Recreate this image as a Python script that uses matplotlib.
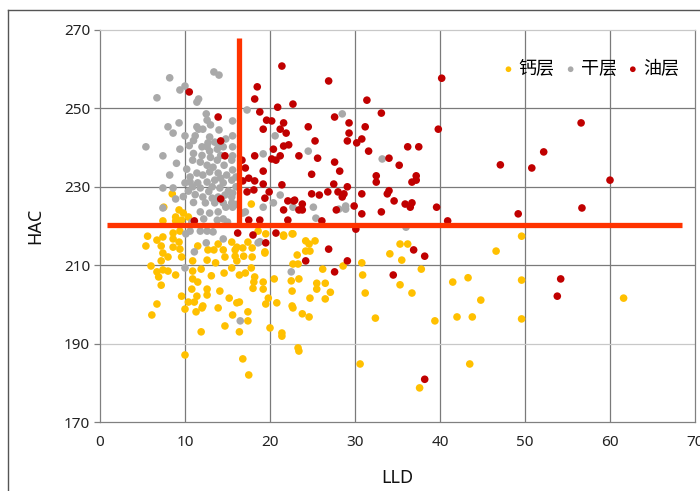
import matplotlib
matplotlib.use("Agg")
import matplotlib.pyplot as plt
from matplotlib.lines import Line2D

plt.rcParams['font.family'] = ['Noto Sans', 'Noto Sans CJK SC', 'DejaVu Sans']

categories = ["钙层", "干层", "油层"]
colors = ["#FFC000", "#A9A9A9", "#C00000"]

# 钙层 (calcium layer)
ca_pts = [
    (9.3,224.1),(9.8,223.3),(8.9,222.3),(10.4,222.3),(9.6,221.5),(8.9,221.3),(7.4,221.3),
    (17.8,225.6),(19.5,218.0),(21.6,217.7),(22.6,218.0),(18.6,218.7),
    (5.6,217.4),(6.7,216.4),(5.4,214.9),(7.4,217.2),(8.6,218.2),(9.4,218.7),
    (8.6,216.7),(9.3,215.9),(8.6,214.6),(9.4,214.1),(7.2,214.9),(7.4,213.1),(8.0,212.1),(7.2,211.1),(9.6,212.1),
    (11.5,214.9),(13.9,215.4),(13.4,213.9),(12.7,213.9),(14.5,213.9),(15.5,215.9),(17.4,215.9),(16.1,214.6),
    (16.8,214.4),(17.9,214.4),(15.9,213.9),
    (15.9,212.3),(16.1,211.1),(14.7,212.1),(13.6,210.6),(12.6,211.3),(10.9,211.1),(17.9,212.1),(16.9,212.3),(19.4,213.1),
    (6.0,209.8),(6.7,208.3),(6.9,207.0),(7.4,208.8),(8.0,208.5),(8.9,207.5),(10.9,208.5),(11.9,209.0),(13.1,207.3),
    (14.6,208.0),(15.5,209.3),(16.4,207.5),(17.1,208.0),(17.8,209.3),(18.2,207.0),(18.1,205.7),(19.2,205.7),(20.5,206.5),
    (7.2,204.9),(10.9,206.5),(11.5,205.7),(10.8,203.9),(12.6,203.9),(12.6,202.4),(11.4,202.1),(9.6,202.1),(10.4,200.6),
    (11.1,200.6),(12.1,199.6),(12.0,199.1),(13.9,199.1),(14.1,203.4),(15.2,201.6),(16.1,200.4),(16.4,200.6),(18.0,204.1),
    (19.2,203.9),(19.8,201.6),(20.8,200.4),(19.5,200.1),
    (6.7,200.1),(6.1,197.3),(10.0,198.8),(11.3,198.1),(15.6,197.3),(17.4,198.1),(17.4,195.8),(14.7,194.5),(16.4,193.0),
    (11.9,193.0),(20.0,194.0),(21.4,192.7),
    (10.0,187.1),(16.8,186.1),(17.5,182.0),
    (23.2,212.6),(22.7,210.3),(23.4,206.5),(22.5,206.0),(22.6,203.4),(22.6,199.6),(23.3,188.9),
    (21.6,217.4),(22.7,218.0),(24.2,216.2),(24.6,215.4),(25.3,216.2),(24.2,213.6),(24.7,213.6),
    (23.3,210.3),(26.2,209.0),(28.6,209.8),
    (25.5,205.4),(25.5,203.9),(26.5,205.4),(27.1,203.1),(24.7,201.6),(26.5,201.4),
    (22.7,199.1),(23.8,197.6),(24.6,196.8),(21.4,191.9),(23.4,188.1),
    (30.8,210.6),(30.9,207.5),(31.2,202.9),(32.4,196.5),(30.6,184.8),
    (34.1,212.9),(35.3,215.4),(36.2,215.4),(35.5,211.3),(35.3,205.0),(36.7,202.9),(37.8,209.0),
    (39.4,195.8),(37.6,178.7),
    (41.5,205.7),(43.3,206.8),(44.8,201.1),(42.0,196.8),(43.8,196.8),(43.5,184.8),
    (46.6,213.6),(49.6,217.4),(49.6,206.2),(49.6,196.3),(61.6,201.6),
    (19.4,213.4),(8.5,228.2),(7.5,224.8),
]

# 干层 (dry layer)
dry_pts = [
    (8.2,257.8),(13.4,259.3),(14.0,258.5),(10.0,255.7),(9.4,254.7),(6.7,252.7),(11.6,252.4),(11.4,251.6),
    (17.3,249.6),(12.5,248.6),(12.6,247.0),(9.3,246.3),(8.6,243.7),(8.0,245.3),(11.4,245.3),(11.6,244.7),
    (12.1,244.7),(15.6,246.8),(12.9,242.7),(11.2,243.0),(10.0,243.0),(15.6,243.0),(13.5,241.4),(12.7,241.2),
    (13.9,241.2),(12.0,240.2),(20.6,243.0),(5.4,240.2),(9.4,239.6),(7.4,237.9),(12.6,240.2),(12.9,239.1),
    (13.8,239.6),(14.5,240.2),(19.2,238.4),(15.6,240.2),(15.6,237.9),(10.9,236.8),(11.8,236.3),(12.6,235.5),
    (13.3,235.0),(13.8,236.8),(14.6,235.5),(15.5,236.8),(8.2,233.0),(10.6,232.5),(11.4,233.5),(12.1,233.0),
    (12.9,233.8),(13.9,233.5),(14.9,233.0),(15.6,234.3),(10.6,231.2),(11.5,231.0),(12.6,231.2),(13.5,231.7),
    (14.5,231.0),(15.5,231.7),(7.4,229.7),(8.6,229.7),(10.4,228.9),(11.8,229.7),(13.2,230.0),(14.1,229.7),
    (15.1,228.9),(15.6,228.4),(8.9,226.9),(12.1,227.4),(13.2,227.1),(13.9,227.4),(14.7,227.9),(15.5,227.4),
    (12.4,225.9),(13.5,225.9),(14.5,225.9),(15.5,225.9),(7.4,224.6),(11.8,223.6),(12.9,223.3),(13.9,223.6),
    (14.8,224.8),(17.1,223.6),(19.2,224.8),(20.4,225.9),(21.2,227.9),(22.7,224.8),(11.8,218.7),(12.6,218.7),
    (13.3,218.5),(10.6,218.7),(10.1,218.0),(13.8,221.5),(14.5,221.8),(10.0,231.0),(10.9,230.0),
    (28.5,248.6),(24.5,239.1),(33.2,237.1),(25.1,224.8),(28.1,224.3),(28.9,225.1),(28.9,224.3),
    (25.4,222.0),(36.0,219.7),(16.8,223.3),(15.6,224.8),(18.6,215.7),(18.8,216.0),(22.5,208.3),(16.5,195.8),
    (12.5,215.7),(11.1,213.4),(14.5,216.7),(10.0,209.3),
    (11.0,238.5),(14.2,238.0),(10.2,234.5),(13.0,237.5),(16.0,232.5),(9.8,227.5),(11.0,226.0),(16.0,230.0),
    (10.5,240.5),(11.0,241.8),(14.8,242.2),(12.0,238.0),(9.0,236.0),(14.0,244.5),(13.0,245.8),(11.2,228.0),
    (12.8,228.8),(14.2,232.2),(16.0,225.5),(12.2,221.8),(10.8,221.0),(15.0,221.0),
]

# 油层 (oil layer)
oil_pts = [
    (21.4,260.8),(26.9,257.0),(40.2,257.7),(10.5,254.2),(18.5,255.5),(18.2,252.4),(22.7,251.1),(13.9,247.8),
    (20.9,250.3),(18.8,249.1),(19.6,247.0),(20.2,246.8),(21.6,246.3),(19.2,244.7),(21.2,244.7),(21.9,243.7),
    (14.2,241.7),(20.4,239.6),(21.6,240.4),(22.2,240.7),(14.7,237.9),(18.2,237.9),(20.2,237.1),(20.7,236.8),
    (21.2,237.9),(16.7,236.8),(17.1,234.8),(19.2,234.0),(17.5,232.2),(18.2,231.5),(19.2,230.7),(21.4,230.5),
    (17.3,228.7),(18.1,229.2),(19.9,228.7),(19.4,227.1),(14.2,226.9),(22.1,226.4),(22.8,226.4),(11.1,221.3),
    (17.5,221.5),(18.8,221.5),(22.1,221.5),(16.2,218.2),(18.0,217.7),(31.4,252.1),(33.1,248.8),(39.8,244.7),
    (27.6,247.8),(29.3,246.3),(29.3,243.7),(31.2,245.3),(24.5,245.3),(29.1,241.7),(30.2,241.2),(30.8,242.2),
    (25.3,241.7),(31.6,239.1),(36.2,240.2),(37.5,240.2),(23.4,237.9),(25.6,237.3),(34.0,237.3),(27.6,236.3),
    (35.2,235.5),(28.2,234.0),(24.9,233.2),(32.5,232.8),(32.5,231.2),(37.2,232.8),(37.2,231.7),(36.7,231.2),
    (27.5,230.7),(29.1,230.0),(34.0,229.0),(33.8,228.2),(24.9,228.2),(26.8,228.7),(28.0,228.7),(28.7,228.2),
    (28.5,227.4),(30.8,228.2),(34.6,226.4),(35.9,225.6),(36.7,225.9),(36.5,224.8),(39.6,224.8),(22.9,226.6),
    (21.6,224.1),(23.4,224.1),(23.8,224.1),(23.8,225.6),(27.8,224.1),(29.9,225.1),(30.8,223.1),(33.1,223.6),
    (26.1,221.3),(40.9,221.3),(30.1,219.2),(26.9,214.1),(36.9,213.9),(38.2,212.3),(49.2,223.1),(56.7,224.6),
    (29.1,211.1),(27.6,208.3),(34.5,207.5),(24.2,211.1),(54.2,206.5),(53.8,202.1),(38.2,180.9),(47.1,235.6),
    (50.8,234.8),(52.2,238.9),(56.6,246.3),(60.0,231.7),(16.8,231.5),(25.8,227.9),(20.7,218.2),(19.5,215.7),
]

series = [ca_pts, dry_pts, oil_pts]

# threshold lines
hac_cut = 220.3
lld_cut = 16.4
h_line_x = [0.8, 68.5]
v_line_y = [hac_cut, 268.0]

x_ticks = [0, 10, 20, 30, 40, 50, 60, 70]
y_ticks = [170, 190, 210, 230, 250, 270]

fig = plt.figure(figsize=(7.0, 4.91), dpi=100)
ax = fig.add_axes([100/700, 1-422/491, 595/700, 392/491])
ax.set_xlim(0, 70)
ax.set_ylim(170, 270)

grid_dark = "#7a7a7a"
for xv in x_ticks[1:-1]:
    ax.axvline(xv, color=grid_dark, lw=0.9, zorder=1)
for yv in y_ticks[1:-1]:
    ax.axhline(yv, color=("#c8c8c8" if yv == 190 else grid_dark), lw=0.9, zorder=1)

for pts, col, lab in zip(series, colors, categories):
    xs = [p[0] for p in pts]
    ys = [p[1] for p in pts]
    ax.scatter(xs, ys, s=30, color=col, edgecolors='none', label=lab, zorder=3)

ax.plot(h_line_x, [hac_cut, hac_cut], color="#FF3300", lw=3.8, solid_capstyle='butt', zorder=5)
ax.plot([lld_cut, lld_cut], v_line_y, color="#FF3300", lw=3.8, solid_capstyle='butt', zorder=5)

for side in ['left', 'bottom', 'right']:
    ax.spines[side].set_color("#808080")
    ax.spines[side].set_linewidth(0.9)
ax.spines['top'].set_color("#c8c8c8")
ax.spines['top'].set_linewidth(0.9)

ax.set_xticks(x_ticks)
ax.set_yticks(y_ticks)
ax.tick_params(axis='x', length=0, pad=9, labelsize=11, labelcolor="#222222")
ax.tick_params(axis='y', length=4, width=0.9, color="#808080", pad=3, labelsize=11, labelcolor="#222222")

ax.set_xlabel("LLD", fontsize=13, labelpad=14, color="#111111")
ax.set_ylabel("HAC", fontsize=13, labelpad=14, color="#111111")

leg = ax.legend(loc='upper right', bbox_to_anchor=(1.0, 0.965), ncol=3, frameon=False,
                handletextpad=0.05, columnspacing=0.4, handlelength=1.0, markerscale=0.75,
                prop={'family': ['Noto Sans CJK SC', 'DejaVu Sans'], 'size': 13})

# figure border (partial frame)
fig.add_artist(Line2D([8/700, 8/700], [0, 1-10/491], transform=fig.transFigure, color="#555555", lw=1.0))
fig.add_artist(Line2D([8/700, 1], [1-10/491, 1-10/491], transform=fig.transFigure, color="#555555", lw=1.0))

fig.savefig("out.png", dpi=100)
